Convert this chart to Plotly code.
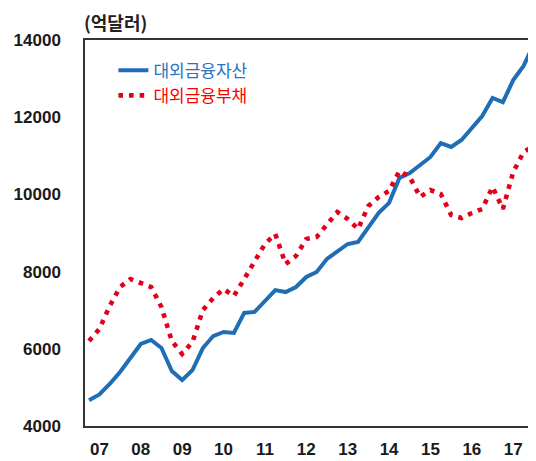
import plotly.graph_objects as go

# Quarterly categories: 2006Q4 .. 2017Q3
quarters = ["2006Q4"] + [f"{y}Q{q}" for y in range(2007, 2018) for q in range(1, 5)][:43]

assets = [4670, 4816, 5088, 5400, 5760, 6124, 6228, 6020, 5425, 5190,
          5450, 6020, 6330, 6435, 6410, 6930, 6955, 7240, 7520, 7470,
          7600, 7860, 7990, 8330, 8530, 8715, 8770, 9155, 9520, 9780,
          10425, 10555, 10760, 10970, 11330, 11230, 11410, 11720, 12030, 12500,
          12390, 12960, 13330, 13900]

liabilities = [6200, 6513, 7109, 7601, 7808, 7705, 7601, 7083, 6202, 5865,
               6176, 7005, 7316, 7549, 7368, 7808, 8249, 8715, 8974, 8197,
               8404, 8845, 8896, 9233, 9544, 9363, 9104, 9700, 9933, 10088,
               10606, 10450, 9933, 10114, 10010, 9466, 9389, 9518, 9622, 10192,
               9622, 10580, 11098, 11254]

x_tickvals = [f"{y}Q1" for y in range(2007, 2018)]
x_ticktext = ["07", "08", "09", "10", "11", "12", "13", "14", "15", "16", "17"]
y_tickvals = [4000, 6000, 8000, 10000, 12000, 14000]
y_ticktext = ["4000", "6000", "8000", "10000", "12000", "14000"]

series_names = ["대외금융자산", "대외금융부채"]
unit_label = "(억달러)"

BLUE = "#1f6db4"
RED = "#e3001b"
NUM_FONT = "Liberation Sans"
KR_FONT = "Noto Sans CJK KR"

fig = go.Figure()
fig.add_trace(go.Scatter(
    x=quarters, y=assets, mode="lines",
    name=f"<span style='color:#2a72c0'>{series_names[0]}</span>",
    line=dict(color=BLUE, width=4),
    legendgroup="a",
))
fig.add_trace(go.Scatter(
    x=quarters, y=liabilities, mode="lines",
    name=f"<span style='color:#ff0000'>{series_names[1]}</span>",
    line=dict(color=RED, width=4.6, dash="4.6px,6px"),
    legendgroup="b",
))

# the page body adds an 8px margin, so the figure is 8px smaller than the window
fig.update_layout(
    width=528, height=453,
    margin=dict(l=77, r=0, t=32, b=35, autoexpand=False),
    paper_bgcolor="white", plot_bgcolor="white",
    showlegend=True,
    legend=dict(
        x=0.063, y=0.967, xanchor="left", yanchor="top",
        bgcolor="rgba(0,0,0,0)",
        font=dict(family=KR_FONT, size=17, color="#333"),
        tracegroupgap=2,
        traceorder="normal",
    ),
    xaxis=dict(
        type="category",
        categoryorder="array", categoryarray=quarters,
        range=[-0.39, 43.2],
        tickmode="array", tickvals=x_tickvals, ticktext=x_ticktext,
        showgrid=False, zeroline=False,
        showline=True, linecolor="#333", linewidth=1.5, mirror=True,
        ticks="", ticklabelstandoff=7, automargin=False,
        tickfont=dict(family=NUM_FONT, size=17, color="#1a1a1a", weight="bold"),
    ),
    yaxis=dict(
        range=[4000, 14000],
        tickmode="array", tickvals=y_tickvals, ticktext=y_ticktext,
        showgrid=False, zeroline=False,
        showline=True, linecolor="#333", linewidth=1.5, mirror=False,
        ticks="", ticklabelstandoff=19, automargin=False,
        tickfont=dict(family=NUM_FONT, size=17, color="#1a1a1a", weight="bold"),
    ),
    annotations=[dict(
        text=unit_label, xref="paper", yref="paper",
        x=-0.006, y=1.047, xanchor="left", yanchor="middle",
        showarrow=False,
        font=dict(family=KR_FONT, size=18, color="#222", weight="bold"),
    )],
)

fig.write_html("out.html")
